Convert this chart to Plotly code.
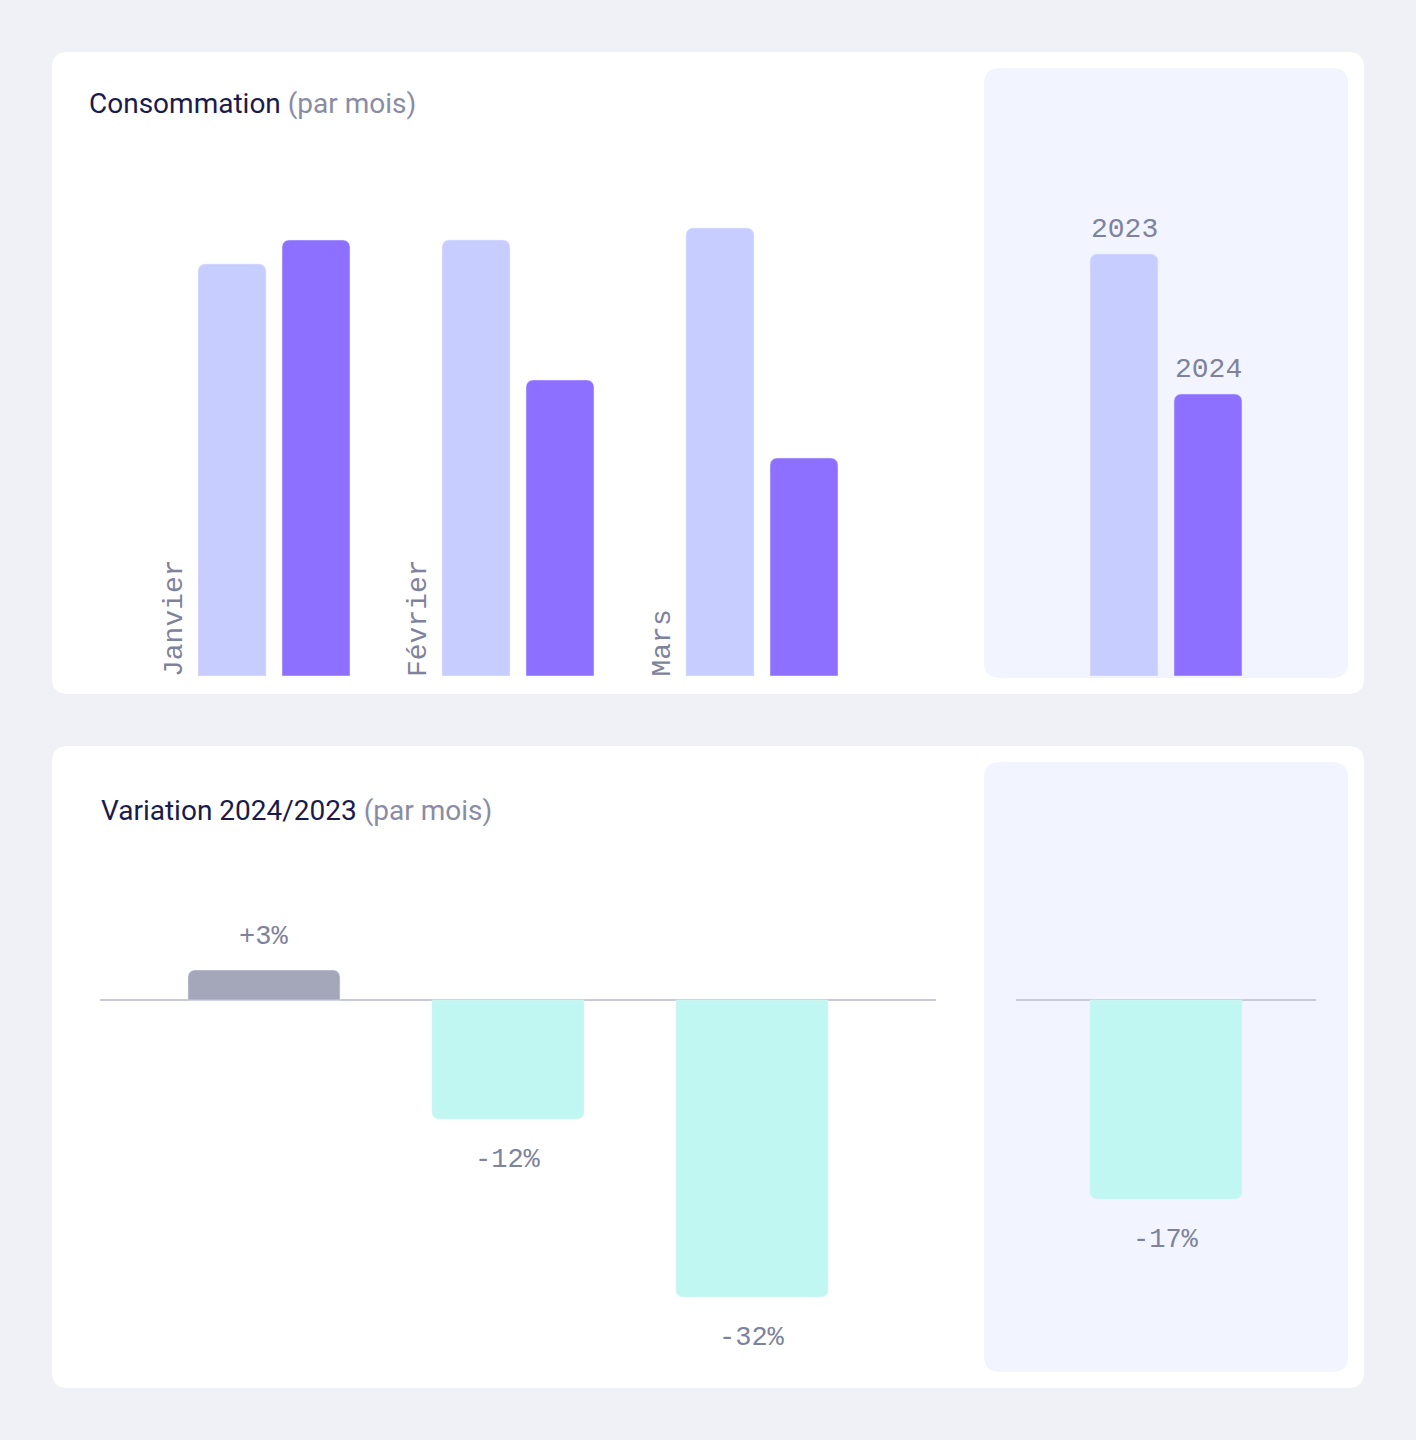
import plotly.graph_objects as go

# ---------------- data ----------------
months = ["Janvier", "Février", "Mars"]
conso_2023 = [412, 436, 448]
conso_2024 = [436, 296, 218]
years = ["2023", "2024"]
conso_total = [422, 282]

variation_bar = [3.0, -11.9, -29.7]
variation_label = ["+3%", "-12%", "-32%"]
total_cat = ["Total"]
total_variation_bar = [-19.9]
total_variation_label = ["-17%"]

# ---------------- style ----------------
W, H = 1416, 1440
PAGE_BG = "#f0f1f6"
CARD_BG = "#ffffff"
PANEL_BG = "#f2f5ff"
C2023 = "#c7cdfe"
C2024 = "#8d70ff"
CPOS = "#a4a6b9"
CNEG = "#c0f7f2"
LABEL_C = "#7f829c"
TITLE_C = "#1a1b4b"
SUB_C = "#8a8ca4"
MONO = "Liberation Mono, DejaVu Sans Mono, monospace"
SANS = "Roboto, Inter, Noto Sans, sans-serif"


def px(x):
    return x / W


def py(y):
    return 1 - y / H


def rrect(x0, y0, x1, y1, r):
    rx, ry = r / W, r / H
    X0, X1 = px(x0), px(x1)
    Y0, Y1 = py(y0), py(y1)  # Y0 top, Y1 bottom
    return (f"M {X0+rx},{Y0} L {X1-rx},{Y0} Q {X1},{Y0} {X1},{Y0-ry} "
            f"L {X1},{Y1+ry} Q {X1},{Y1} {X1-rx},{Y1} L {X0+rx},{Y1} "
            f"Q {X0},{Y1} {X0},{Y1+ry} L {X0},{Y0-ry} Q {X0},{Y0} {X0+rx},{Y0} Z")


fig = go.Figure()

# top-left grouped bars
bw = 68 / 244
fig.add_trace(go.Bar(x=months, y=conso_2023, marker_color=C2023, width=bw,
                     offset=-76 / 244, xaxis="x", yaxis="y", hoverinfo="skip"))
fig.add_trace(go.Bar(x=months, y=conso_2024, marker_color=C2024, width=bw,
                     offset=8 / 244, xaxis="x", yaxis="y", hoverinfo="skip"))
# top-right totals
fig.add_trace(go.Bar(x=years, y=conso_total, marker_color=[C2023, C2024],
                     width=68 / 84, xaxis="x2", yaxis="y2", hoverinfo="skip"))
# bottom-left variation
fig.add_trace(go.Bar(x=months, y=variation_bar,
                     marker_color=[CPOS if v >= 0 else CNEG for v in variation_bar],
                     width=152 / 244, xaxis="x3", yaxis="y3", hoverinfo="skip"))
# bottom-right total variation
fig.add_trace(go.Bar(x=total_cat, y=total_variation_bar,
                     marker_color=[CPOS if v >= 0 else CNEG for v in total_variation_bar],
                     width=152 / 300, xaxis="x4", yaxis="y4", hoverinfo="skip"))

shapes = [
    dict(type="path", path=rrect(52, 52, 1364, 694, 16), xref="paper", yref="paper",
         fillcolor=CARD_BG, line_width=0, layer="below"),
    dict(type="path", path=rrect(984, 68, 1348, 678, 16), xref="paper", yref="paper",
         fillcolor=PANEL_BG, line_width=0, layer="below"),
    dict(type="path", path=rrect(52, 746, 1364, 1388, 16), xref="paper", yref="paper",
         fillcolor=CARD_BG, line_width=0, layer="below"),
    dict(type="path", path=rrect(984, 762, 1348, 1372, 16), xref="paper", yref="paper",
         fillcolor=PANEL_BG, line_width=0, layer="below"),
]

annotations = [
    dict(text=f"Consommation <span style='color:{SUB_C}'>(par mois)</span>",
         xref="paper", yref="paper", x=px(87), y=py(104), xanchor="left", yanchor="middle",
         showarrow=False, font=dict(family=SANS, size=28, color=TITLE_C)),
    dict(text=f"Variation 2024/2023 <span style='color:{SUB_C}'>(par mois)</span>",
         xref="paper", yref="paper", x=px(99), y=py(810), xanchor="left", yanchor="middle",
         showarrow=False, font=dict(family=SANS, size=28, color=TITLE_C)),
]
for i, m in enumerate(months):
    annotations.append(dict(text=m, x=i, y=0, xref="x", yref="y", xshift=-100, yshift=-3,
                            xanchor="center", yanchor="bottom", textangle=-90,
                            showarrow=False, font=dict(family=MONO, size=28, color=LABEL_C)))
for i, (yv, v) in enumerate(zip(years, conso_total)):
    annotations.append(dict(text=yv, x=i, y=v, xref="x2", yref="y2", yanchor="middle",
                            yshift=25, showarrow=False,
                            font=dict(family=MONO, size=28, color=LABEL_C)))
for i, (m, v, t) in enumerate(zip(months, variation_bar, variation_label)):
    annotations.append(dict(text=t, x=i, y=v, xref="x3", yref="y3", yanchor="middle",
                            yshift=33 if v >= 0 else -41, showarrow=False,
                            font=dict(family=MONO, size=27, color=LABEL_C)))
for i, (c, v, t) in enumerate(zip(total_cat, total_variation_bar, total_variation_label)):
    annotations.append(dict(text=t, x=i, y=v, xref="x4", yref="y4", yanchor="middle",
                            yshift=33 if v >= 0 else -41, showarrow=False,
                            font=dict(family=MONO, size=27, color=LABEL_C)))

hidden = dict(showgrid=False, showticklabels=False, zeroline=False, showline=False,
              ticks="", fixedrange=True)
zl = dict(showgrid=False, showticklabels=False, zeroline=True, zerolinecolor="#c9cad9",
          zerolinewidth=2, showline=False, ticks="", fixedrange=True)

fig.update_layout(
    width=W, height=H, autosize=False,
    margin=dict(l=0, r=0, t=0, b=0, pad=0),
    paper_bgcolor=PAGE_BG, plot_bgcolor="rgba(0,0,0,0)",
    showlegend=False, barmode="overlay", barcornerradius=7,
    shapes=shapes, annotations=annotations,
    xaxis=dict(domain=[px(152), px(884)], range=[-0.5, 2.5], type="category", **hidden),
    yaxis=dict(domain=[py(676), py(176)], range=[0, 500], **hidden),
    xaxis2=dict(domain=[px(1082), px(1250)], range=[-0.5, 1.5], type="category", anchor="y2", **hidden),
    yaxis2=dict(domain=[py(676), py(176)], range=[0, 500], anchor="x2", **hidden),
    xaxis3=dict(domain=[px(100), px(936)], range=[-0.672, 2.754], type="category", anchor="y3", **hidden),
    yaxis3=dict(domain=[py(1350), py(900)], range=[-35, 10], anchor="x3", **zl),
    xaxis4=dict(domain=[px(1016), px(1316)], range=[-0.5, 0.5], type="category", anchor="y4", **hidden),
    yaxis4=dict(domain=[py(1350), py(900)], range=[-35, 10], anchor="x4", **zl),
)

fig.write_html("out.html", config={"displayModeBar": False, "staticPlot": True})
